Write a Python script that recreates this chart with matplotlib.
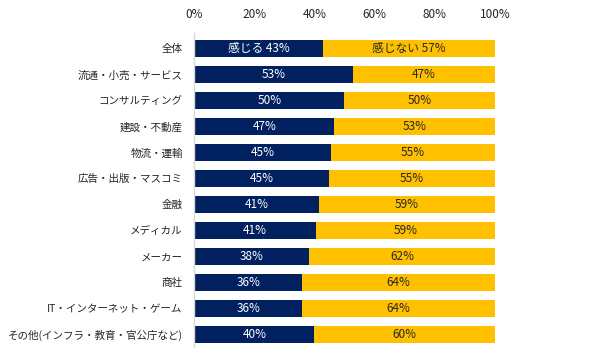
import matplotlib
matplotlib.use("Agg")
import matplotlib.pyplot as plt

plt.rcParams['font.family'] = ['Noto Sans CJK JP', 'DejaVu Sans']

categories = ["全体", "流通・小売・サービス", "コンサルティング", "建設・不動産", "物流・運輸",
              "広告・出版・マスコミ", "金融", "メディカル", "メーカー", "商社",
              "IT・インターネット・ゲーム", "その他(インフラ・教育・官公庁など)"]
feel = [42.7, 52.6, 49.8, 46.4, 45.3, 44.8, 41.3, 40.4, 38.1, 35.8, 35.8, 39.9]
feel_labels = [43, 53, 50, 47, 45, 45, 41, 41, 38, 36, 36, 40]
nofeel_labels = [57, 47, 50, 53, 55, 55, 59, 59, 62, 64, 64, 60]
nofeel = [100 - v for v in feel]
xticks = [0, 20, 40, 60, 80, 100]
xticklabels = ["0%", "20%", "40%", "60%", "80%", "100%"]

navy = "#002060"
yellow = "#FFC000"

fig = plt.figure(figsize=(6.07, 3.62), dpi=100)
ax = fig.add_axes([0.3204, 0.0414, 0.4951, 0.8674])

y = list(range(len(categories)))
h = 0.64
ax.barh(y, feel, height=h, color=navy, linewidth=0)
ax.barh(y, nofeel, left=feel, height=h, color=yellow, linewidth=0)

for i in y:
    t1 = f"{feel_labels[i]}%"
    t2 = f"{nofeel_labels[i]}%"
    if i == 0:
        t1 = "感じる " + t1
        t2 = "感じない " + t2
    ax.text(feel[i] / 2, i, t1, ha='center', va='center', color='white', fontsize=8.5)
    ax.text(feel[i] + nofeel[i] / 2, i, t2, ha='center', va='center', color='#262626', fontsize=8.5)

ax.set_xlim(0, 100)
ax.set_ylim(11.49, -0.59)
ax.set_yticks(y)
ax.set_yticklabels(categories, fontsize=7.6, color='#262626')
ax.set_xticks(xticks)
ax.set_xticklabels(xticklabels, fontsize=8.5, color='#262626')
ax.xaxis.tick_top()
ax.tick_params(axis='x', length=0, pad=9)
ax.tick_params(axis='y', length=0, pad=8.5)
for s in ['top', 'right', 'bottom']:
    ax.spines[s].set_visible(False)
ax.spines['left'].set_color('#d9d9d9')
ax.spines['left'].set_linewidth(1)

fig.savefig("out.png", dpi=100)
